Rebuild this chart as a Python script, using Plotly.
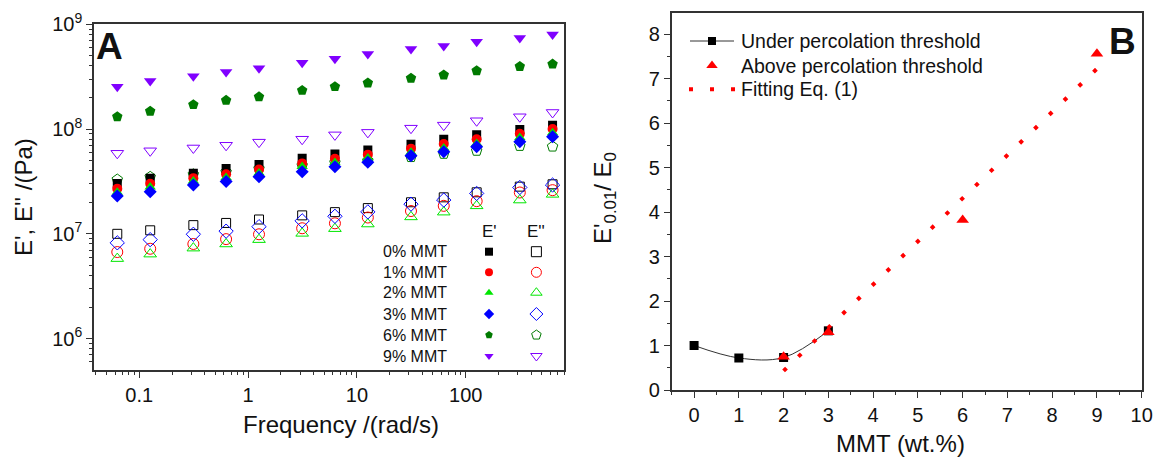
import plotly.graph_objects as go

W, H = 1156, 458
FONT = "Liberation Sans, Arial, sans-serif"

# ---------------- Panel A data ----------------
freq = [0.0628, 0.126, 0.314, 0.628, 1.26, 3.14, 6.28, 12.6, 31.4, 62.8, 126, 314, 628]

e1_0 = [3.03e7, 3.39e7, 3.78e7, 4.2e7, 4.6e7, 5.25e7, 5.77e7, 6.3e7, 7.15e7, 7.98e7, 8.8e7, 9.9e7, 1.09e8]
e1_1 = [2.7e7, 3.0e7, 3.4e7, 3.7e7, 4.1e7, 4.7e7, 5.2e7, 5.7e7, 6.5e7, 7.2e7, 8.0e7, 9.0e7, 1.0e8]
e1_2 = [2.5e7, 2.8e7, 3.2e7, 3.45e7, 3.8e7, 4.4e7, 4.8e7, 5.3e7, 6.0e7, 6.6e7, 7.3e7, 8.3e7, 9.2e7]
e1_3 = [2.3e7, 2.52e7, 2.92e7, 3.15e7, 3.51e7, 3.92e7, 4.37e7, 4.81e7, 5.56e7, 6.07e7, 6.78e7, 7.57e7, 8.45e7]
e1_6 = [1.31e8, 1.48e8, 1.71e8, 1.88e8, 2.03e8, 2.34e8, 2.54e8, 2.75e8, 3.05e8, 3.28e8, 3.6e8, 3.96e8, 4.17e8]
e1_9 = [2.54e8, 2.87e8, 3.2e8, 3.5e8, 3.8e8, 4.3e8, 4.7e8, 5.2e8, 5.8e8, 6.2e8, 6.8e8, 7.4e8, 8.0e8]

e2_0 = [1.0e7, 1.08e7, 1.21e7, 1.27e7, 1.37e7, 1.5e7, 1.61e7, 1.76e7, 2.0e7, 2.23e7, 2.49e7, 2.82e7, 2.97e7]
e2_1 = [6.7e6, 7.2e6, 8.0e6, 8.9e6, 9.9e6, 1.13e7, 1.26e7, 1.43e7, 1.65e7, 1.85e7, 2.05e7, 2.48e7, 2.61e7]
e2_2 = [5.8e6, 6.4e6, 7.3e6, 8.0e6, 8.8e6, 1.01e7, 1.12e7, 1.24e7, 1.45e7, 1.61e7, 1.85e7, 2.1e7, 2.38e7]
e2_3 = [8.2e6, 8.8e6, 9.9e6, 1.06e7, 1.17e7, 1.33e7, 1.47e7, 1.62e7, 1.92e7, 2.1e7, 2.43e7, 2.77e7, 2.92e7]
e2_6 = [3.3e7, 3.5e7, 3.7e7, 3.9e7, 4.2e7, 4.5e7, 4.8e7, 5.0e7, 5.4e7, 5.8e7, 6.2e7, 6.9e7, 6.8e7]
e2_9 = [5.87e7, 6.2e7, 6.6e7, 7.0e7, 7.5e7, 8.0e7, 8.8e7, 9.3e7, 1.02e8, 1.09e8, 1.2e8, 1.31e8, 1.44e8]

labels_a = ["0% MMT", "1% MMT", "2% MMT", "3% MMT", "6% MMT", "9% MMT"]

# ---------------- Panel B data ----------------
mmt_under = [0, 1, 2, 3]
ratio_under = [1.0, 0.72, 0.73, 1.33]
mmt_above = [2, 3, 6, 9]
ratio_above = [0.75, 1.30, 3.82, 7.56]
fit_x = [2, 3, 4, 5, 6, 7, 8, 9]
fit_y = [0.43, 1.40, 2.37, 3.35, 4.32, 5.28, 6.25, 7.22]
labels_b = ["Under percolation threshold", "Above percolation threshold", "Fitting Eq. (1)"]

# ---------------- styles ----------------
colors = ["#000000", "#ff0000", "#00e600", "#0000ff", "#007a00", "#8000ff"]
sym_f = ["square", "circle", "triangle-up", "diamond", "pentagon", "triangle-down"]
sym_o = ["square-open", "circle-open", "triangle-up-open", "diamond-open", "pentagon-open", "triangle-down-open"]
size_f = [9, 10, 10, 10, 11, 11]
size_o = [9, 11, 11, 11, 11, 11]

fig = go.Figure()

E1 = [e1_0, e1_1, e1_2, e1_3, e1_6, e1_9]
E2 = [e2_0, e2_1, e2_2, e2_3, e2_6, e2_9]
for i in range(6):
    fig.add_trace(go.Scatter(x=freq, y=E2[i], mode="markers", xaxis="x", yaxis="y",
                             marker=dict(symbol=sym_o[i], size=size_o[i], color=colors[i],
                                         line=dict(width=1, color=colors[i])),
                             showlegend=False))
for i in range(6):
    fig.add_trace(go.Scatter(x=freq, y=E1[i], mode="markers", xaxis="x", yaxis="y",
                             marker=dict(symbol=sym_f[i], size=size_f[i], color=colors[i],
                                         line=dict(width=0)),
                             showlegend=False))

# Panel B
fig.add_trace(go.Scatter(x=mmt_under, y=ratio_under, mode="lines+markers", xaxis="x2", yaxis="y2",
                         line=dict(color="#333333", width=1, shape="spline"),
                         marker=dict(symbol="square", size=9, color="#000000"), showlegend=False))
fig.add_trace(go.Scatter(x=mmt_above, y=ratio_above, mode="markers", xaxis="x2", yaxis="y2",
                         marker=dict(symbol="triangle-up", size=11, color="#ff0000"), showlegend=False))
fig.add_trace(go.Scatter(x=fit_x, y=fit_y, mode="lines", xaxis="x2", yaxis="y2",
                         line=dict(color="#ff0000", width=4, dash="4px,16.5px"), showlegend=False))

# ---------------- legend keys (pixel overlay axes) ----------------
row_y_a = [251.7, 272.3, 292.7, 314, 335, 356]
for i in range(6):
    fig.add_trace(go.Scatter(x=[489], y=[row_y_a[i]], mode="markers", xaxis="x3", yaxis="y3",
                             marker=dict(symbol=sym_f[i], size=8, color=colors[i]), showlegend=False))
    fig.add_trace(go.Scatter(x=[536.4], y=[row_y_a[i]], mode="markers", xaxis="x3", yaxis="y3",
                             marker=dict(symbol=sym_o[i], size=10, color=colors[i],
                                         line=dict(width=1, color=colors[i])), showlegend=False))

row_y_b = [41, 65.5, 89.3]
fig.add_trace(go.Scatter(x=[690, 734], y=[row_y_b[0]] * 2, mode="lines", xaxis="x3", yaxis="y3",
                         line=dict(color="#333333", width=1), showlegend=False))
fig.add_trace(go.Scatter(x=[712], y=[row_y_b[0]], mode="markers", xaxis="x3", yaxis="y3",
                         marker=dict(symbol="square", size=8, color="#000000"), showlegend=False))
fig.add_trace(go.Scatter(x=[712], y=[row_y_b[1]], mode="markers", xaxis="x3", yaxis="y3",
                         marker=dict(symbol="triangle-up", size=10, color="#ff0000"), showlegend=False))
fig.add_trace(go.Scatter(x=[689, 736], y=[row_y_b[2]] * 2, mode="lines", xaxis="x3", yaxis="y3",
                         line=dict(color="#ff0000", width=4, dash="4px,17px"), showlegend=False))

# ---------------- axes ----------------
def px_x(p):
    return p / W

def px_y(p):
    return 1 - p / H

log_minor_x = [m * 10.0 ** k for k in range(-2, 3) for m in range(2, 10)]
log_minor_y = [m * 10.0 ** k for k in range(5, 9) for m in range(2, 10)]

axis_common = dict(showline=True, linecolor="#333333", linewidth=1.5, mirror=True,
                   ticks="outside", ticklen=6, tickwidth=1.2, tickcolor="#333333",
                   showgrid=False, zeroline=False, automargin=False,
                   tickfont=dict(family=FONT, size=20, color="#111111"))

fig.update_layout(
    width=W, height=H, margin=dict(l=0, r=0, t=0, b=0, pad=0, autoexpand=False),
    paper_bgcolor="white", plot_bgcolor="rgba(0,0,0,0)", showlegend=False,
    xaxis=dict(domain=[px_x(94), px_x(564)], type="log", range=[-1.416, 2.903],
               tickmode="array", tickvals=[0.1, 1, 10, 100], ticktext=["0.1", "1", "10", "100"],
               anchor="y",
               minor=dict(ticks="outside", ticklen=3, tickmode="array", tickvals=log_minor_x,
                          tickcolor="#333333"),
               **axis_common),
    yaxis=dict(domain=[px_y(370), px_y(24.3)], type="log", range=[5.70, 9.0],
               tickmode="array", tickvals=[1e6, 1e7, 1e8, 1e9],
               ticktext=["10<sup>6</sup>", "10<sup>7</sup>", "10<sup>8</sup>", "10<sup>9</sup>"],
               anchor="x",
               minor=dict(ticks="outside", ticklen=3, tickmode="array", tickvals=log_minor_y,
                          tickcolor="#333333"),
               **axis_common),
    xaxis2=dict(domain=[px_x(671.7), px_x(1141.7)], range=[-0.5, 10], dtick=1, tick0=0, anchor="y2",
                minor=dict(ticks="outside", ticklen=3, dtick=0.5, tickcolor="#333333"),
                **axis_common),
    yaxis2=dict(domain=[px_y(390), px_y(12.7)], range=[0, 8.48], dtick=1, tick0=0, anchor="x2",
                minor=dict(ticks="outside", ticklen=3, dtick=0.5, tickcolor="#333333"),
                **axis_common),
    xaxis3=dict(domain=[0, 1], range=[0, W], visible=False, anchor="y3", fixedrange=True,
                automargin=False),
    yaxis3=dict(domain=[0, 1], range=[H, 0], visible=False, anchor="x3", fixedrange=True,
                automargin=False),
)

anns = []
def ann(text, x, y, size, xanchor="center", yanchor="middle", angle=0, color="#111111"):
    anns.append(dict(text=text, x=px_x(x), y=px_y(y), xref="paper", yref="paper",
                     xanchor=xanchor, yanchor=yanchor, showarrow=False, textangle=angle,
                     font=dict(family=FONT, size=size, color=color)))

# titles
ann("Frequency /(rad/s)", 341, 424, 24)
ann("E', E'' /(Pa)", 23, 197, 24, angle=-90)
ann("MMT (wt.%)", 900, 443, 24)
ann("E'<sub>0.01</sub>/ E<sub>0</sub>", 604, 198, 24, angle=-90)
# panel letters
ann("<b>A</b>", 109, 47, 37)
ann("<b>B</b>", 1122, 42, 37)
# legend A
ann("E'", 489, 231.7, 17)
ann("E''", 536.4, 231.7, 17)
for i in range(6):
    ann(labels_a[i], 448.5, row_y_a[i], 16, xanchor="right")
# legend B
for i in range(3):
    ann(labels_b[i], 739, row_y_b[i], 19.5, xanchor="left")

fig.update_layout(annotations=anns)
fig.write_html("out.html", config={"displayModeBar": False},
               post_script="document.body.style.margin='0';document.body.style.overflow='hidden';")
